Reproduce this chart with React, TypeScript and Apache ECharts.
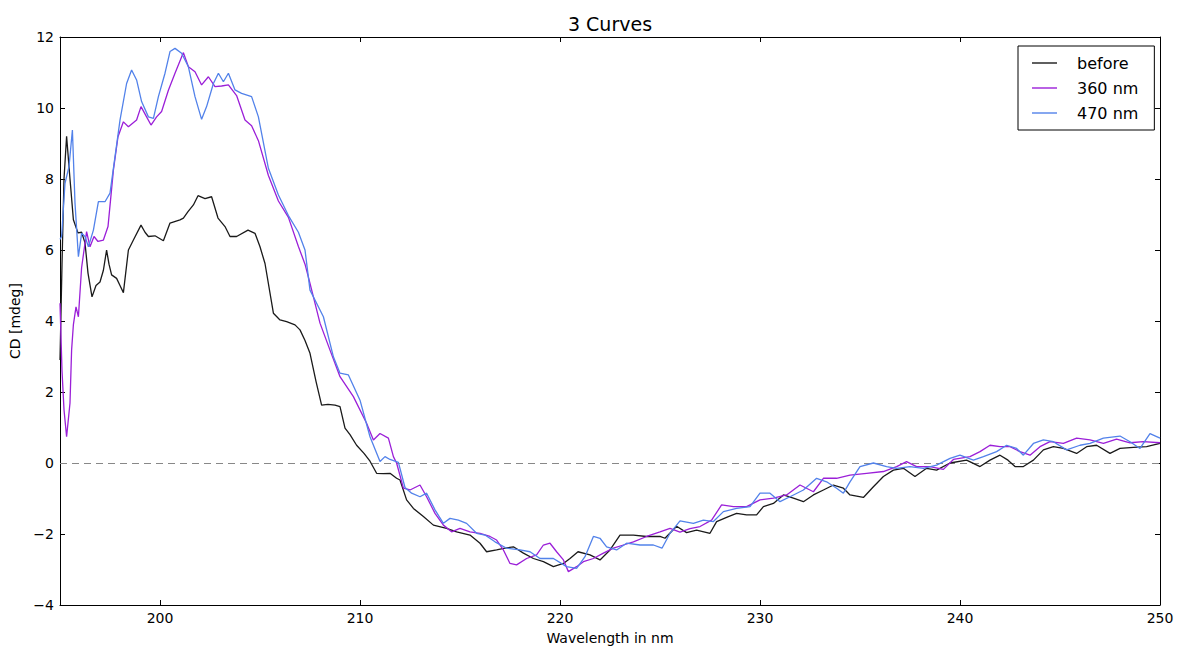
import React, { useEffect, useRef } from "react";
import * as echarts from "echarts";

const xTicks = [200, 210, 220, 230, 240, 250];
const yTicks = [-4, -2, 0, 2, 4, 6, 8, 10, 12];

const beforeX = [195.0, 195.1, 195.2, 195.33, 195.5, 195.67, 195.9, 196.08, 196.25, 196.4, 196.6, 196.8, 197.0, 197.17, 197.33, 197.45, 197.58, 197.83, 198.0, 198.17, 198.42, 198.67, 199.05, 199.25, 199.42, 199.75, 200.17, 200.5, 201.0, 201.17, 201.4, 201.67, 201.9, 202.25, 202.58, 202.9, 203.25, 203.5, 203.83, 204.4, 204.75, 205.0, 205.25, 205.67, 206.0, 206.33, 206.75, 207.0, 207.25, 207.5, 207.8, 208.08, 208.4, 208.75, 209.0, 209.25, 209.5, 209.83, 210.2, 210.5, 210.83, 211.17, 211.5, 211.83, 212.0, 212.33, 212.67, 213.17, 213.67, 214.33, 214.83, 215.5, 216.0, 216.33, 216.83, 217.25, 217.67, 218.17, 218.67, 219.17, 219.67, 220.17, 220.5, 220.9, 221.5, 222.0, 222.5, 223.0, 223.67, 224.33, 225.0, 225.25, 225.83, 226.33, 226.83, 227.5, 227.83, 228.42, 228.83, 229.33, 229.83, 230.17, 230.67, 231.17, 231.67, 232.17, 232.67, 233.17, 233.67, 234.17, 234.5, 235.17, 235.67, 236.17, 236.67, 237.17, 237.75, 238.33, 238.83, 239.5, 240.33, 241.0, 241.5, 242.0, 242.4, 242.75, 243.17, 243.67, 244.17, 244.67, 245.17, 245.83, 246.33, 246.83, 247.5, 248.0, 248.67, 249.33, 250.0];
const beforeY = [2.9, 5.6, 8.0, 9.2, 8.0, 6.85, 6.48, 6.5, 6.2, 5.35, 4.68, 5.0, 5.1, 5.43, 6.0, 5.6, 5.3, 5.2, 5.0, 4.8, 6.0, 6.28, 6.7, 6.5, 6.38, 6.4, 6.26, 6.76, 6.85, 6.9, 7.08, 7.27, 7.53, 7.45, 7.5, 6.9, 6.66, 6.38, 6.38, 6.56, 6.47, 6.09, 5.62, 4.22, 4.03, 3.98, 3.89, 3.75, 3.45, 3.09, 2.3, 1.63, 1.65, 1.63, 1.59, 0.98, 0.8, 0.5, 0.27, 0.05, -0.29, -0.3, -0.29, -0.43, -0.48, -1.04, -1.28, -1.51, -1.75, -1.84, -1.94, -2.03, -2.26, -2.5, -2.45, -2.4, -2.36, -2.54, -2.69, -2.78, -2.92, -2.83, -2.69, -2.5, -2.59, -2.73, -2.45, -2.03, -2.03, -2.07, -2.07, -2.12, -1.78, -1.96, -1.89, -1.98, -1.65, -1.51, -1.42, -1.46, -1.46, -1.23, -1.14, -0.9, -0.99, -1.09, -0.9, -0.76, -0.62, -0.71, -0.9, -0.97, -0.67, -0.38, -0.2, -0.15, -0.38, -0.15, -0.2, 0.0, 0.08, -0.1, 0.08, 0.22, 0.08, -0.1, -0.1, 0.08, 0.37, 0.46, 0.41, 0.27, 0.46, 0.5, 0.27, 0.41, 0.44, 0.46, 0.55];

const nm360X = [195.0, 195.1, 195.2, 195.33, 195.5, 195.58, 195.67, 195.8, 195.92, 196.08, 196.33, 196.5, 196.7, 196.9, 197.17, 197.4, 197.67, 197.9, 198.17, 198.42, 198.83, 199.05, 199.33, 199.55, 199.83, 200.08, 200.42, 200.75, 201.17, 201.42, 201.75, 202.08, 202.42, 202.75, 203.08, 203.42, 203.83, 204.25, 204.58, 204.92, 205.42, 205.92, 206.42, 206.92, 207.25, 207.5, 208.0, 208.5, 209.0, 209.67, 210.33, 210.67, 211.0, 211.42, 211.67, 211.83, 212.17, 212.5, 213.0, 213.33, 213.75, 214.17, 214.58, 215.0, 215.5, 216.0, 216.5, 216.83, 217.17, 217.5, 217.83, 218.33, 218.83, 219.17, 219.5, 219.83, 220.17, 220.42, 220.83, 221.17, 221.67, 222.17, 222.67, 223.17, 223.67, 224.33, 225.0, 225.5, 226.0, 226.5, 227.0, 227.58, 228.08, 228.67, 229.33, 230.0, 230.67, 231.33, 232.0, 232.67, 233.17, 233.83, 234.5, 235.33, 236.17, 236.83, 237.33, 237.83, 238.5, 239.17, 239.67, 240.5, 241.0, 241.5, 242.0, 242.5, 243.0, 243.5, 244.0, 244.5, 245.17, 245.83, 246.5, 247.17, 247.83, 248.5, 249.17, 250.0];
const nm360Y = [4.5, 2.6, 1.5, 0.74, 1.69, 3.18, 3.9, 4.4, 4.12, 5.5, 6.52, 6.09, 6.38, 6.24, 6.28, 6.66, 8.25, 9.19, 9.61, 9.47, 9.66, 10.04, 9.75, 9.52, 9.75, 9.9, 10.5, 10.98, 11.56, 11.16, 11.02, 10.65, 10.88, 10.6, 10.62, 10.65, 10.35, 9.66, 9.5, 9.08, 8.1, 7.38, 6.92, 6.1, 5.6, 5.06, 3.94, 3.18, 2.43, 1.87, 1.12, 0.65, 0.83, 0.7, 0.18, 0.0, -0.71, -0.76, -0.62, -0.95, -1.42, -1.75, -1.94, -1.84, -1.94, -1.98, -2.07, -2.17, -2.45, -2.83, -2.87, -2.69, -2.59, -2.31, -2.26, -2.5, -2.73, -3.06, -2.92, -2.78, -2.69, -2.54, -2.4, -2.31, -2.22, -2.07, -1.94, -1.84, -1.95, -1.85, -1.79, -1.61, -1.18, -1.23, -1.23, -1.04, -0.99, -0.9, -0.62, -0.81, -0.43, -0.43, -0.34, -0.29, -0.24, -0.1, 0.04, -0.1, -0.1, -0.18, 0.1, 0.18, 0.32, 0.5, 0.46, 0.46, 0.32, 0.22, 0.46, 0.6, 0.55, 0.7, 0.65, 0.55, 0.67, 0.57, 0.6, 0.57];

const nm470X = [195.0, 195.08, 195.25, 195.45, 195.62, 195.75, 195.92, 196.08, 196.25, 196.42, 196.67, 196.92, 197.25, 197.5, 197.75, 198.0, 198.33, 198.58, 198.83, 199.08, 199.42, 199.67, 199.92, 200.25, 200.5, 200.75, 201.08, 201.42, 201.75, 202.08, 202.33, 202.67, 202.92, 203.17, 203.42, 203.75, 204.08, 204.58, 204.92, 205.42, 205.92, 206.42, 206.92, 207.25, 207.5, 208.17, 208.67, 209.0, 209.42, 210.0, 210.5, 211.0, 211.25, 211.5, 211.92, 212.25, 212.58, 213.0, 213.33, 213.75, 214.17, 214.5, 214.92, 215.33, 215.83, 216.25, 216.75, 217.33, 218.0, 218.5, 219.0, 219.67, 220.33, 220.83, 221.25, 221.67, 222.0, 222.33, 222.83, 223.33, 224.0, 224.67, 225.1, 225.5, 226.0, 226.67, 227.17, 227.67, 228.17, 228.83, 229.5, 230.0, 230.5, 231.0, 231.5, 232.17, 232.83, 233.33, 233.83, 234.17, 234.5, 235.0, 235.67, 236.33, 236.83, 237.5, 238.17, 238.83, 239.5, 240.0, 240.67, 241.17, 241.83, 242.33, 242.83, 243.17, 243.67, 244.17, 244.67, 245.33, 246.0, 246.5, 247.17, 248.0, 248.5, 249.0, 249.5, 250.0];
const nm470Y = [6.3, 6.38, 7.88, 8.35, 9.38, 7.32, 5.81, 6.47, 6.38, 6.09, 6.56, 7.36, 7.36, 7.6, 8.63, 9.66, 10.69, 11.07, 10.79, 10.18, 9.75, 9.71, 10.32, 10.98, 11.59, 11.68, 11.54, 11.16, 10.32, 9.68, 10.04, 10.69, 10.98, 10.74, 10.98, 10.51, 10.41, 10.32, 9.75, 8.3, 7.55, 6.97, 6.5, 6.0, 4.87, 4.12, 2.99, 2.53, 2.48, 1.77, 0.74, 0.04, 0.18, 0.1, 0.02, -0.69, -0.85, -0.95, -0.85, -1.32, -1.7, -1.56, -1.61, -1.7, -1.98, -2.03, -2.22, -2.4, -2.45, -2.5, -2.69, -2.69, -2.92, -2.97, -2.64, -2.07, -2.12, -2.36, -2.45, -2.26, -2.31, -2.31, -2.4, -1.98, -1.63, -1.7, -1.61, -1.65, -1.37, -1.28, -1.23, -0.85, -0.85, -1.09, -0.95, -0.76, -0.43, -0.53, -0.71, -0.85, -0.53, -0.1, 0.0, -0.1, -0.15, -0.1, -0.15, -0.06, 0.13, 0.22, 0.08, 0.18, 0.32, 0.5, 0.41, 0.22, 0.55, 0.65, 0.6, 0.37, 0.5, 0.55, 0.7, 0.76, 0.6, 0.41, 0.83, 0.7];

const zip = (xs: number[], ys: number[]) => xs.map((x, i) => [x, ys[i]]);

const FONT = "DejaVu Sans";

export default function App() {
  const ref = useRef<HTMLDivElement>(null);
  useEffect(() => {
    if (!ref.current) return;
    const chart = echarts.init(ref.current, null, { renderer: "svg" });
    const axisLine = { show: true, onZero: false, lineStyle: { color: "#000", width: 1 } };
    const tick = { show: true, inside: true, length: 5, lineStyle: { color: "#000", width: 1 } };
    const fmtY = (v: number) => (v < 0 ? "\u2212" + Math.abs(v) : String(v));
    chart.setOption({
      animation: false,
      backgroundColor: "#fff",
      textStyle: { fontFamily: FONT },
      title: {
        text: "3 Curves",
        left: 610,
        top: 14,
        padding: 0,
        textAlign: "center",
        textStyle: { fontFamily: FONT, fontSize: 19, fontWeight: "normal", color: "#000" },
      },
      legend: {
        orient: "vertical",
        left: 1018,
        top: 46,
        padding: [9, 16, 9, 14],
        icon: "rect",
        itemWidth: 25,
        itemHeight: 1.4,
        itemGap: 9,
        borderColor: "#000",
        borderWidth: 1,
        borderRadius: 0,
        backgroundColor: "#fff",
        textStyle: { fontFamily: FONT, fontSize: 16, color: "#000", lineHeight: 16, padding: [0, 0, 0, 15] },
        data: ["before", "360 nm", "470 nm"],
      },
      grid: { left: 60, right: 17, top: 37, bottom: 43, containLabel: false, outerBoundsMode: "none" },
      xAxis: [
        {
          type: "value",
          min: 195,
          max: 250,
          position: "bottom",
          axisLine,
          axisTick: { ...tick, customValues: xTicks },
          axisLabel: { customValues: xTicks, fontFamily: FONT, fontSize: 14, color: "#000", margin: 6 },
          splitLine: { show: false },
          name: "Wavelength in nm",
          nameLocation: "middle",
          nameGap: 26,
          nameTextStyle: { fontFamily: FONT, fontSize: 14, color: "#000" },
        },
        {
          type: "value",
          min: 195,
          max: 250,
          position: "top",
          axisLine,
          axisTick: { ...tick, customValues: xTicks },
          axisLabel: { show: false },
          splitLine: { show: false },
        },
      ],
      yAxis: [
        {
          type: "value",
          min: -4,
          max: 12,
          interval: 2,
          position: "left",
          axisLine,
          axisTick: tick,
          axisLabel: { formatter: fmtY, fontFamily: FONT, fontSize: 14, color: "#000", margin: 6 },
          splitLine: { show: false },
          name: "CD [mdeg]",
          nameLocation: "middle",
          nameGap: 35,
          nameRotate: 90,
          nameTextStyle: { fontFamily: FONT, fontSize: 14, color: "#000" },
        },
        {
          type: "value",
          min: -4,
          max: 12,
          interval: 2,
          position: "right",
          axisLine,
          axisTick: tick,
          axisLabel: { show: false },
          splitLine: { show: false },
        },
      ],
      series: [
        {
          name: "before",
          type: "line",
          data: zip(beforeX, beforeY),
          symbol: "none",
          smooth: false,
          lineStyle: { color: "#1a1a1a", width: 1.3 },
          itemStyle: { color: "#1a1a1a" },
          z: 3,
          markLine: {
            silent: true,
            symbol: ["none", "none"],
            label: { show: false },
            lineStyle: { color: "#888", type: [7, 5], width: 1.2 },
            data: [{ yAxis: 0 }],
            z: 1,
          },
        },
        {
          name: "360 nm",
          type: "line",
          data: zip(nm360X, nm360Y),
          symbol: "none",
          lineStyle: { color: "#9b1fd8", width: 1.3 },
          itemStyle: { color: "#9b1fd8" },
          z: 4,
        },
        {
          name: "470 nm",
          type: "line",
          data: zip(nm470X, nm470Y),
          symbol: "none",
          lineStyle: { color: "#5282ea", width: 1.3 },
          itemStyle: { color: "#5282ea" },
          z: 5,
        },
      ],
    });
    return () => chart.dispose();
  }, []);
  return (
    <div
      ref={ref}
      style={{ position: "fixed", left: 0, top: 0, width: 1177, height: 648, background: "#fff" }}
    />
  );
}
